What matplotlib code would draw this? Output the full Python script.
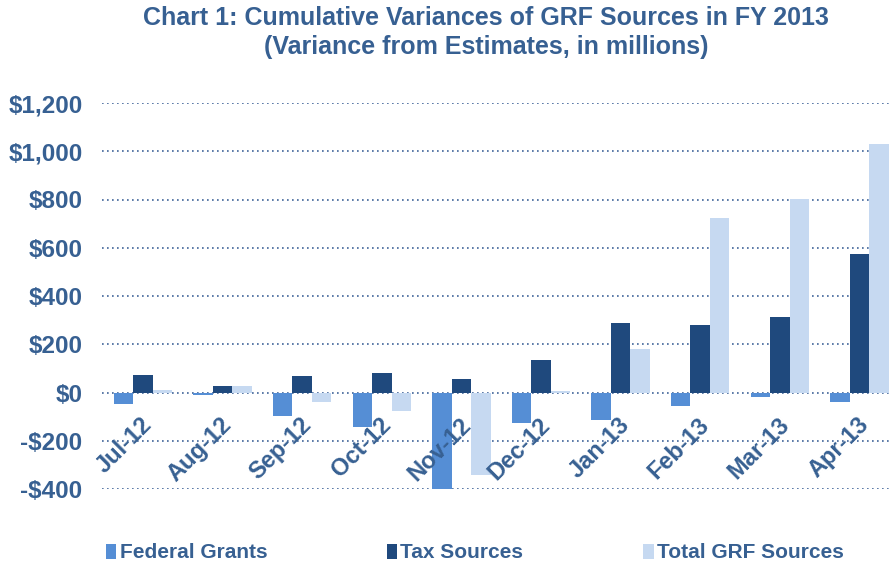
import matplotlib
matplotlib.use("Agg")
import matplotlib.pyplot as plt
import numpy as np

# Chart data (millions of dollars)
months = ['Jul-12', 'Aug-12', 'Sep-12', 'Oct-12', 'Nov-12',
          'Dec-12', 'Jan-13', 'Feb-13', 'Mar-13', 'Apr-13']
federal_grants = [-47, -11, -99, -145, -400, -127, -113, -54, -19, -40]
tax_sources = [72, 28, 69, 80, 58, 133, 289, 279, 314, 574]
total_grf = [12, 26, -40, -75, -341, 7, 182, 724, 804, 1031]
yticks = [-400, -200, 0, 200, 400, 600, 800, 1000, 1200]
ytick_labels = ['-$400', '-$200', '$0', '$200', '$400', '$600', '$800', '$1,000', '$1,200']

c_fed = '#558ED5'
c_tax = '#1F497D'
c_tot = '#C6D9F1'
txt = '#376092'

plt.rcParams['font.family'] = ['Liberation Sans', 'DejaVu Sans']

fig = plt.figure(figsize=(8.9, 5.62), dpi=100)
ax = fig.add_axes([102 / 890, (562 - 489) / 562, (890 - 102) / 890, (489 - 103) / 562])

x = np.arange(len(months))
w = 0.245
ax.bar(x - w, federal_grants, w, color=c_fed, label='Federal Grants')
ax.bar(x, tax_sources, w, color=c_tax, label='Tax Sources')
ax.bar(x + w, total_grf, w, color=c_tot, label='Total GRF Sources')

ax.set_ylim(-400, 1200)
ax.set_xlim(-0.515, 9.485 - 8 / 79.6)
ax.set_yticks(yticks)
ax.set_yticklabels(ytick_labels, fontsize=17.5, fontweight='bold', color=txt)
ax.tick_params(axis='y', length=0, pad=14)
ax.set_xticks([])
for s in ax.spines.values():
    s.set_visible(False)
ax.set_axisbelow(True)
ax.grid(axis='y', linestyle=(0, (1, 2)), color='#3F6499', linewidth=1.2)

# month labels sit just under the zero line, rotated 45 degrees
for i, m in enumerate(months):
    ax.text(i - 0.03, -85, m, rotation=45, ha='right', va='top',
            rotation_mode='anchor', fontsize=17, fontweight='bold', color=txt)

fig.text(0.546, 0.968, 'Chart 1: Cumulative Variances of GRF Sources in FY 2013',
         ha='center', va='center', fontsize=18, fontweight='bold', color=txt)
fig.text(0.546, 0.916, '(Variance from Estimates, in millions)',
         ha='center', va='center', fontsize=18, fontweight='bold', color=txt)

leg = fig.legend(loc='center left', bbox_to_anchor=(106 / 890, 1 - 553 / 562), ncol=3,
                 frameon=False, borderpad=0, borderaxespad=0,
                 handlelength=0.5, handleheight=0.75, handletextpad=0.15,
                 columnspacing=5.75,
                 prop={'weight': 'bold', 'size': 15})
for t in leg.get_texts():
    t.set_color(txt)

fig.savefig('out.png', dpi=100)
